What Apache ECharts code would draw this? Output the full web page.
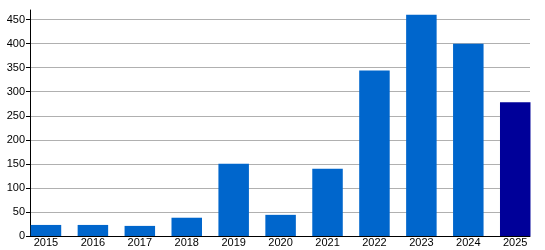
<!DOCTYPE html>
<html>
<head>
<meta charset="utf-8">
<script src="https://cdn.jsdelivr.net/npm/echarts@6/dist/echarts.min.js"></script>
<style>html,body{margin:0;padding:0;background:#fff}#c{width:545px;height:250px}</style>
</head>
<body>
<div id="c"></div>
<script>
var categories = ['2015','2016','2017','2018','2019','2020','2021','2022','2023','2024','2025'];
var values = [23, 23, 21, 38, 150, 44, 140, 344, 460, 400, 278];
var barColors = ['#0066cc','#0066cc','#0066cc','#0066cc','#0066cc','#0066cc','#0066cc','#0066cc','#0066cc','#0066cc','#000099'];
var yTicks = [0, 50, 100, 150, 200, 250, 300, 350, 400, 450];

var chart = echarts.init(document.getElementById('c'), null, {renderer: 'canvas'});
var gridColors = yTicks.map(function(){return '#b0b0b0';});
gridColors.push('rgba(0,0,0,0)');
var font = 'Liberation Sans, Arial, sans-serif';
chart.setOption({
  animation: false,
  textStyle: {fontFamily: font},
  grid: [
    {left: 30, right: 15, top: 10, bottom: 14, containLabel: false},
    {left: 22.5, right: 6.3, top: 10, bottom: 14, containLabel: false}
  ],
  xAxis: [{
    type: 'category',
    gridIndex: 0,
    data: categories,
    axisLine: {show: true, lineStyle: {color: '#000', width: 1}},
    axisTick: {show: false},
    axisLabel: {show: false},
    splitLine: {show: false}
  }, {
    type: 'category',
    gridIndex: 1,
    data: categories,
    axisLine: {show: false},
    axisTick: {show: false},
    axisLabel: {color: '#000', fontSize: 11, margin: 1, fontFamily: font},
    splitLine: {show: false}
  }],
  yAxis: [{
    type: 'value',
    gridIndex: 0,
    min: 0,
    max: 470,
    interval: 50,
    axisLine: {show: true, lineStyle: {color: '#000', width: 1}},
    axisTick: {show: true, length: 4, lineStyle: {color: '#000'}, customValues: yTicks},
    axisLabel: {color: '#000', fontSize: 11, margin: 5, customValues: yTicks, fontFamily: font},
    splitLine: {show: true, lineStyle: {color: gridColors, width: 1}}
  }, {
    type: 'value',
    gridIndex: 1,
    min: 0,
    max: 470,
    interval: 50,
    show: false
  }],
  series: [{
    type: 'bar',
    xAxisIndex: 1,
    yAxisIndex: 1,
    data: values.map(function(v, i){ return {value: v, itemStyle: {color: barColors[i]}}; }),
    barCategoryGap: '35%'
  }]
});
</script>
</body>
</html>
